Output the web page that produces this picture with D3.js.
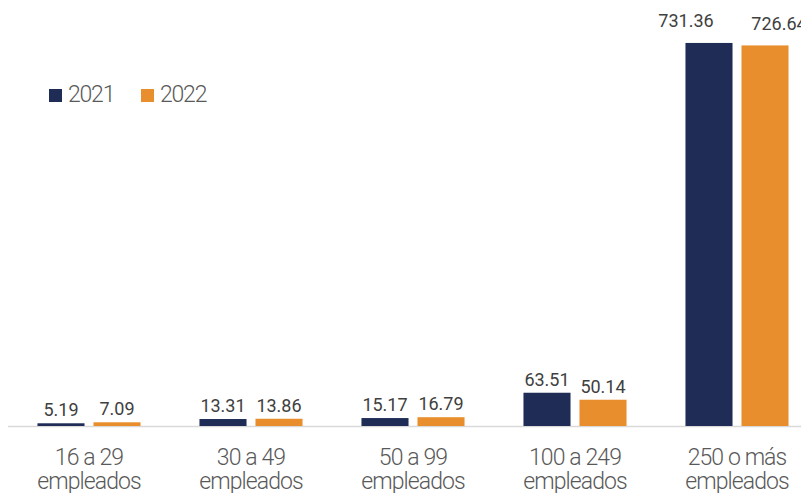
<!DOCTYPE html>
<html>
<head>
    <meta charset="utf-8">
    <title>Empleados</title>
    <script src="https://d3js.org/d3.v7.min.js"></script>
    <style>
        body { margin: 0; background: white; }
        svg { display: block; font-family: Roboto, sans-serif; }
    </style>
</head>
<body>
    <svg id="chart"></svg>
    <script>
        const categories = [["16 a 29", "empleados"], ["30 a 49", "empleados"], ["50 a 99", "empleados"],
                            ["100 a 249", "empleados"], ["250 o más", "empleados"]];
        const seriesNames = ["2021", "2022"];
        const values2021 = [5.19, 13.31, 15.17, 63.51, 731.36];
        const values2022 = [7.09, 13.86, 16.79, 50.14, 726.64];
        const colors = ["#1e2c56", "#e98e2d"];

        const width = 801, height = 493;
        const svg = d3.select("#chart").attr("width", width).attr("height", height);

        const x0 = d3.scaleBand().domain(d3.range(categories.length)).range([8, 818]).padding(0);
        const x1 = d3.scaleBand().domain(seriesNames).range([0, x0.bandwidth()])
            .paddingInner(0.16).paddingOuter(0.526);
        const y = d3.scaleLinear().domain([0, 800]).range([426, 7]);

        const rows = categories.map((c, i) => ({ i, vals: [values2021[i], values2022[i]] }));

        // baseline
        svg.append("line")
            .attr("x1", 8).attr("x2", width)
            .attr("y1", y(0) + 0.5).attr("y2", y(0) + 0.5)
            .attr("stroke", "#d9d9d9").attr("stroke-width", 1.5);

        const groups = svg.selectAll("g.cat").data(rows).enter()
            .append("g").attr("class", "cat")
            .attr("transform", d => `translate(${x0(d.i)},0)`);

        groups.selectAll("rect").data(d => d.vals.map((v, k) => ({ v, k, i: d.i }))).enter()
            .append("rect")
            .attr("x", d => x1(seriesNames[d.k]))
            .attr("y", d => y(d.v))
            .attr("width", x1.bandwidth())
            .attr("height", d => y(0) - y(d.v))
            .attr("fill", d => colors[d.k]);

        // value labels (the tallest pair is nudged apart like the original)
        const last = categories.length - 1;
        groups.selectAll("text.val").data(d => d.vals.map((v, k) => ({ v, k, i: d.i }))).enter()
            .append("text").attr("class", "val")
            .attr("x", d => x1(seriesNames[d.k]) + x1.bandwidth() / 2 + (d.i === last ? (d.k === 0 ? -23 : 14) : 0))
            .attr("y", d => y(d.v) - (d.i === last ? (d.k === 0 ? 16 : 15) : 7))
            .attr("text-anchor", "middle")
            .attr("fill", "#404040")
            .attr("font-size", "18px")
            .text(d => d.v.toFixed(2));

        // category labels
        const catText = svg.selectAll("text.cat").data(categories).enter()
            .append("text").attr("class", "cat")
            .attr("x", (d, i) => x0(i) + x0.bandwidth() / 2)
            .attr("y", 465)
            .attr("text-anchor", "middle")
            .attr("fill", "#595959")
            .attr("font-size", "23px")
            .attr("font-weight", 300)
            .attr("letter-spacing", "-0.9px");
        catText.selectAll("tspan").data(d => d).enter()
            .append("tspan")
            .attr("x", function () { return this.parentNode.getAttribute("x"); })
            .attr("dy", (d, k) => k === 0 ? 0 : 24)
            .text(d => d);

        // legend
        const legend = svg.selectAll("g.leg").data(seriesNames).enter()
            .append("g").attr("class", "leg")
            .attr("transform", (d, k) => `translate(${49 + k * 92},89)`);
        legend.append("rect").attr("width", 13).attr("height", 13).attr("fill", (d, k) => colors[k]);
        legend.append("text")
            .attr("x", 19).attr("y", 13)
            .attr("fill", "#595959")
            .attr("font-size", "23px")
            .attr("font-weight", 300)
            .attr("letter-spacing", "-1.2px")
            .text(d => d);
    </script>
</body>
</html>
